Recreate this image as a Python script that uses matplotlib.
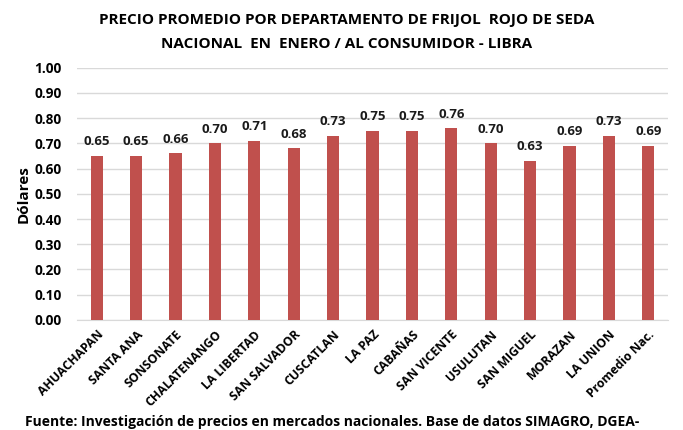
import numpy as np
import matplotlib
matplotlib.use("Agg")
import matplotlib.pyplot as plt

plt.rcParams['font.family'] = ['Open Sans', 'DejaVu Sans']

departamentos = ["AHUACHAPAN", "SANTA ANA", "SONSONATE", "CHALATENANGO", "LA LIBERTAD",
                 "SAN SALVADOR", "CUSCATLAN", "LA PAZ", "CABAÑAS", "SAN VICENTE",
                 "USULUTAN", "SAN MIGUEL", "MORAZAN", "LA UNION", "Promedio Nac."]
precios = [0.65, 0.65, 0.66, 0.70, 0.71, 0.68, 0.73, 0.75, 0.75, 0.76,
           0.70, 0.63, 0.69, 0.73, 0.69]
y_ticks = [0.0, 0.1, 0.2, 0.3, 0.4, 0.5, 0.6, 0.7, 0.8, 0.9, 1.0]

fig = plt.figure(figsize=(6.83, 4.30), dpi=100)
ax = fig.add_axes([0.1127, 0.256, 0.8653, 0.5866])

x = np.arange(len(departamentos))
ax.bar(x, precios, width=0.31, color='#c0504d', zorder=3)
for xi, v in zip(x, precios):
    ax.text(xi, v + 0.03, f"{v:.2f}", ha='center', va='bottom',
            fontsize=9.5, fontweight='bold', color='#1a1a1a')

ax.set_xlim(-0.5, len(departamentos) - 0.5)
ax.set_ylim(0, 1.0)
ax.set_yticks(y_ticks)
ax.set_yticklabels([f"{t:.2f}" for t in y_ticks], fontsize=9.8, fontweight='bold')
ax.yaxis.grid(True, color='#d9d9d9', lw=1, zorder=0)
ax.set_xticks(x)
ax.set_xticklabels(departamentos, rotation=45, ha='right', rotation_mode='anchor',
                   fontsize=8.8, fontweight='bold')
ax.tick_params(axis='y', length=0, pad=11)
ax.tick_params(axis='x', length=0, pad=6)
for s in ['top', 'right', 'left']:
    ax.spines[s].set_visible(False)
ax.spines['bottom'].set_color('#d9d9d9')
ax.set_ylabel("Dólares", fontsize=11, fontweight='bold', labelpad=3)

fig.text(0.507, 0.953, "PRECIO PROMEDIO POR DEPARTAMENTO DE FRIJOL  ROJO DE SEDA",
         ha='center', va='center', fontsize=11, fontweight='bold')
fig.text(0.507, 0.897, "NACIONAL  EN  ENERO / AL CONSUMIDOR - LIBRA",
         ha='center', va='center', fontsize=11, fontweight='bold')
fig.text(0.037, 0.036, "Fuente: Investigación de precios en mercados nacionales. Base de datos SIMAGRO, DGEA-",
         ha='left', va='top', fontsize=10, fontweight='bold')

fig.savefig("out.png", dpi=100)
